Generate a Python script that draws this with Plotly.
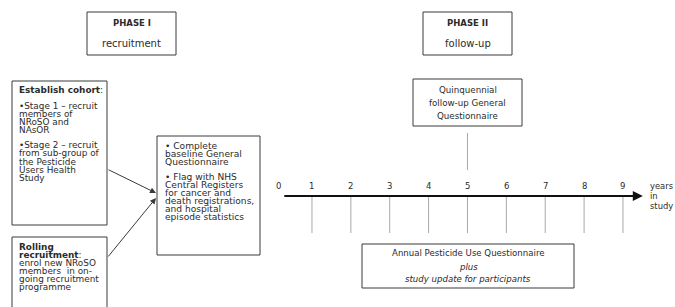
import plotly.graph_objects as go

# ---------------- data ----------------
years = list(range(10))
year_labels = [str(y) for y in years]
axis_title_lines = ["years", "in", "study"]
phase1_lines = ["<b>PHASE I</b>", "recruitment"]
phase2_lines = ["<b>PHASE II</b>", "follow-up"]
cohort_lines = ["<b>Establish cohort</b>:", "•Stage 1 – recruit", "members of", "NRoSO and", "NAsOR",
                "•Stage 2 – recruit", "from sub-group of", "the Pesticide", "Users Health", "Study"]
rolling_lines = ["<b>Rolling</b>", "<b>recruitment</b>:", "enrol new NRoSO", "members  in on-",
                 "going recruitment", "programme"]
baseline_lines = ["• Complete", "baseline General", "Questionnaire", "• Flag with NHS", "Central Registers",
                  "for cancer and", "death registrations,", "and hospital", "episode statistics"]
quin_lines = ["Quinquennial", "follow-up General", "Questionnaire"]
annual_lines = ["Annual Pesticide Use Questionnaire", "<i>plus</i>", "<i>study update for participants</i>"]
quin_year = 5

# ---------------- layout / styling ----------------
W, H = 675, 307
X0, STEP = 273.1, 38.875          # timeline scale: pixel of year 0, pixels per year
FONT = "DejaVu Sans"
TXT = "#2b2b2b"
EDGE = "#3a3a3a"

fig = go.Figure()
shapes, annots = [], []


def box(x0, y0, x1, y1):
    shapes.append(dict(type="rect", xref="x", yref="y", x0=x0, y0=y0, x1=x1, y1=y1,
                       line=dict(color=EDGE, width=1), fillcolor="rgba(0,0,0,0)", layer="below"))


def lines_text(lines, x, ys, anchor="left", size=9, sizes=None):
    for i, (t, y) in enumerate(zip(lines, ys)):
        s = sizes[i] if sizes else size
        annots.append(dict(text=t, x=x, y=y, xref="x", yref="y", showarrow=False,
                           xanchor=anchor, yanchor="middle",
                           font=dict(family=FONT, size=s, color=TXT)))


# Phase headers
box(87, 12, 176, 55)
lines_text(phase1_lines, 131.5, [23, 43], "center", sizes=[8.5, 10])
box(423, 12, 512, 55)
lines_text(phase2_lines, 467.5, [23, 43], "center", sizes=[8.5, 10])

# Left boxes
box(12, 81, 107, 225)
lines_text(cohort_lines, 17, [90, 106, 114, 122, 130, 145, 153, 162, 170, 178], "left", 8.9)
box(12, 237, 107, 312)
lines_text(rolling_lines, 17, [247, 255, 263, 271, 279, 287], "left", 8.9)

# Baseline box
box(157, 136, 260, 255)
lines_text(baseline_lines, 163, [146, 154, 162, 177, 185, 193, 201, 209, 217], "left", 9.1)

# Quinquennial box
box(413, 79, 522, 126)
lines_text(quin_lines, 467.5, [90, 103, 116], "center", 8.7)

# Annual box
box(362, 244, 574, 288)
lines_text(annual_lines, 468, [253, 267, 279], "center", 8.6)

# Arrows into baseline box
for (hx, hy, tx, ty) in [(156, 193, 107, 169), (156, 198, 107, 258)]:
    annots.append(dict(text="", x=hx, y=hy, ax=tx, ay=ty, xref="x", yref="y", axref="x", ayref="y",
                       showarrow=True, arrowhead=2, arrowsize=1.2, arrowwidth=1, arrowcolor=EDGE))

# Timeline arrow
annots.append(dict(text="", x=9.51, y=196, ax=0.25, ay=196, xref="x2", yref="y", axref="x2", ayref="y",
                   showarrow=True, arrowhead=2, arrowsize=1, arrowwidth=2, arrowcolor="#111"))

# Year tick lines (1..9)
tx, ty = [], []
for yv in years[1:]:
    tx += [yv, yv, None]
    ty += [197, 233, None]
fig.add_trace(go.Scatter(x=tx, y=ty, xaxis="x2", yaxis="y", mode="lines",
                         line=dict(color="#a8a8a8", width=1), hoverinfo="skip", showlegend=False))
# connector from quinquennial box
fig.add_trace(go.Scatter(x=[quin_year, quin_year], y=[133, 170], xaxis="x2", yaxis="y", mode="lines",
                         line=dict(color="#a8a8a8", width=1), hoverinfo="skip", showlegend=False))

# Year labels
for yv, lab in zip(years, year_labels):
    annots.append(dict(text=lab, x=yv, y=186, xref="x2", yref="y", showarrow=False,
                       xanchor="center", yanchor="middle", xshift=5 if yv == 0 else 0,
                       font=dict(family=FONT, size=8.5, color=TXT)))
lines_text(axis_title_lines, 648, [186, 196, 206], "left", 8.4)

fig.update_layout(
    width=W, height=H, margin=dict(l=0, r=0, t=0, b=0),
    paper_bgcolor="white", plot_bgcolor="white",
    xaxis=dict(range=[0, W], visible=False, domain=[0, 1], fixedrange=True),
    xaxis2=dict(range=[-X0 / STEP, (W - X0) / STEP], visible=False, overlaying="x", anchor="y",
                fixedrange=True),
    yaxis=dict(range=[H, 0], visible=False, domain=[0, 1], fixedrange=True),
    shapes=shapes, annotations=annots, showlegend=False,
)

fig.write_html("out.html", config={"displayModeBar": False},
               post_script="document.body.style.margin='0px';document.body.style.overflow='hidden';")
